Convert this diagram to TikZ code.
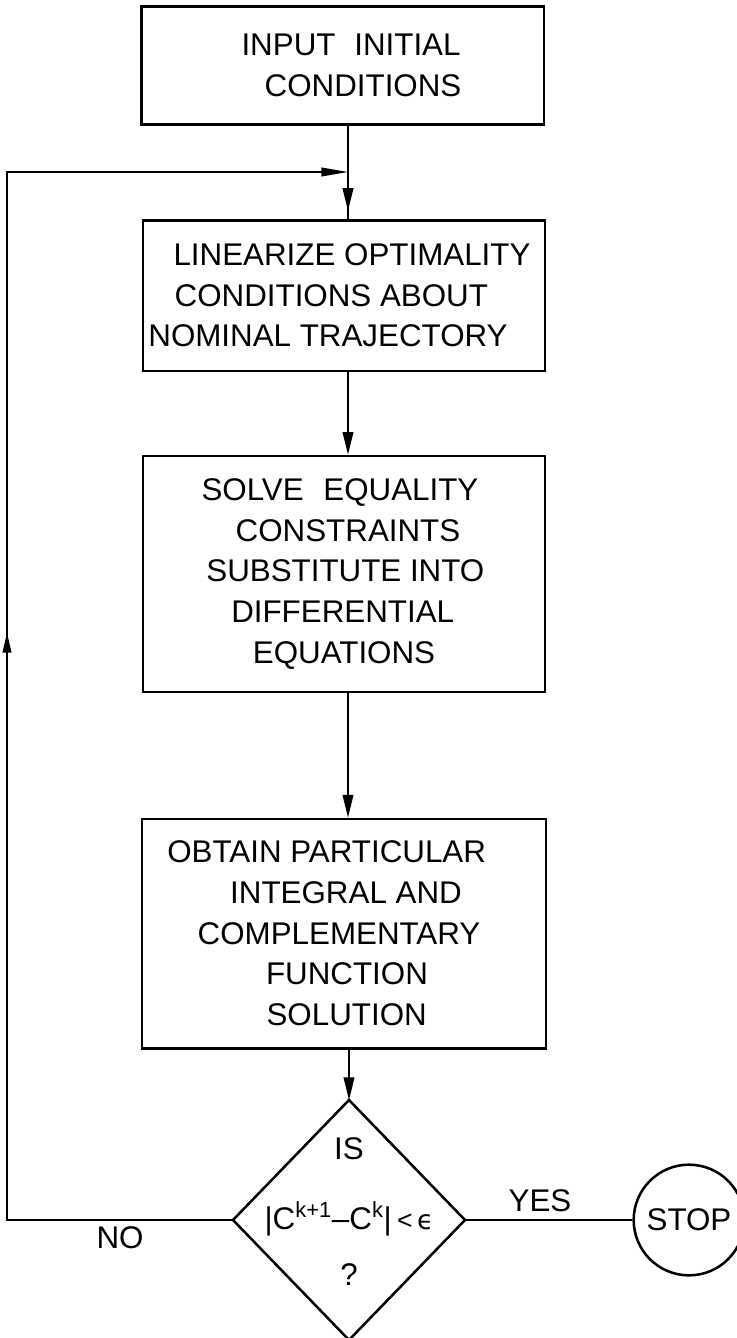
\documentclass[tikz,border=0pt]{standalone}
\usepackage{fontspec}
\setmainfont{Liberation Sans}
\newfontfamily\dvs{DejaVu Sans}
\usetikzlibrary{shapes.geometric,arrows.meta,decorations.markings}
\newcommand\shl[2]{\hspace*{#1}#2\hspace*{-#1}}
\begin{document}
\begin{tikzpicture}[x=0.75pt,y=-0.75pt,
  every node/.style={font=\fontsize{23.5}{30.5}\selectfont},
  procbox/.style={draw, line width=2pt, inner sep=0pt, align=center},
  conn/.style={line width=1.3pt},
  decision/.style={diamond, draw, line width=1.9pt, minimum width=174pt, minimum height=180pt, inner sep=0pt, outer sep=0pt},
  stopc/.style={circle, draw, line width=1.9pt, minimum size=83pt, inner sep=0pt},
  dtip/.tip={Triangle[length=17pt,width=8pt]},
  htip/.tip={Triangle[length=20pt,width=6.5pt]},
  utip/.tip={Triangle[length=15pt,width=6.5pt]}]
\useasboundingbox (0,0) rectangle (736,1338);

\node[procbox, minimum width=302pt, minimum height=88pt] (b1) at (342.5,65.5)
  {\shl{6.4pt}{INPUT\hspace{0.6em}INITIAL}\\\shl{15.4pt}{CONDITIONS}};
\node[procbox, minimum width=301.5pt, minimum height=113pt] (b2) at (344,295.5)
  {\shl{6pt}{LINEARIZE OPTIMALITY}\\\shl{-19pt}{CONDITIONS ABOUT}\\\shl{-12pt}{NOMINAL TRAJECTORY}};
\node[procbox, minimum width=301.5pt, minimum height=177pt] (b3) at (344,574)
  {\shl{-3pt}{SOLVE\hspace{0.35em} EQUALITY}\\\shl{6pt}{CONSTRAINTS}\\\shl{2pt}{SUBSTITUTE INTO}\\\shl{-2pt}{DIFFERENTIAL}\\EQUATIONS};
\node[procbox, minimum width=303pt, minimum height=172pt] (b4) at (344,933.5)
  {\shl{-13pt}{OBTAIN PARTICULAR}\\\shl{3pt}{INTEGRAL AND}\\\shl{-7.5pt}{COMPLEMENTARY}\\\shl{4.5pt}{FUNCTION}\\\shl{2pt}{SOLUTION}};
\node[decision] (d) at (349,1220)
  {\raisebox{-4pt}{\smash{\makebox[0pt]{\begin{tabular}{@{}c@{}}IS\\[22pt]
   |C\textsuperscript{k+1}–C\textsuperscript{k}|\,{\fontsize{20}{20}\selectfont<\,{\dvs ϵ}}\\[11pt]
   ?\end{tabular}}}}};
\node[stopc] (stop) at (689,1220) {STOP};
\node (no) at (120,1238) {NO};
\node (yes) at (540,1201) {YES};

\coordinate (ax) at (348,0);
\coordinate (j) at (348,172);
\coordinate (c1) at (7,1220);
\coordinate (c2) at (7,172);

\draw[conn, postaction={decorate}, decoration={markings, mark=at position -6pt with {\arrow{dtip}}}]
  (b1.south -| ax) -- (b2.north -| ax);
\draw[conn, -{dtip}] (b2.south -| ax) -- (b3.north -| ax);
\draw[conn, -{dtip}] (b3.south -| ax) -- (b4.north -| ax);
\draw[conn, -{dtip}] (b4.south -| d.north) -- (d.north);
\draw[conn, -{htip}, postaction={decorate}, decoration={markings, mark=at position 610pt with {\arrow{utip}}}]
  (d.west) -- (c1) -- (c2) -- (j);
\draw[conn] (d.east) -- (stop.west);
\end{tikzpicture}
\end{document}
